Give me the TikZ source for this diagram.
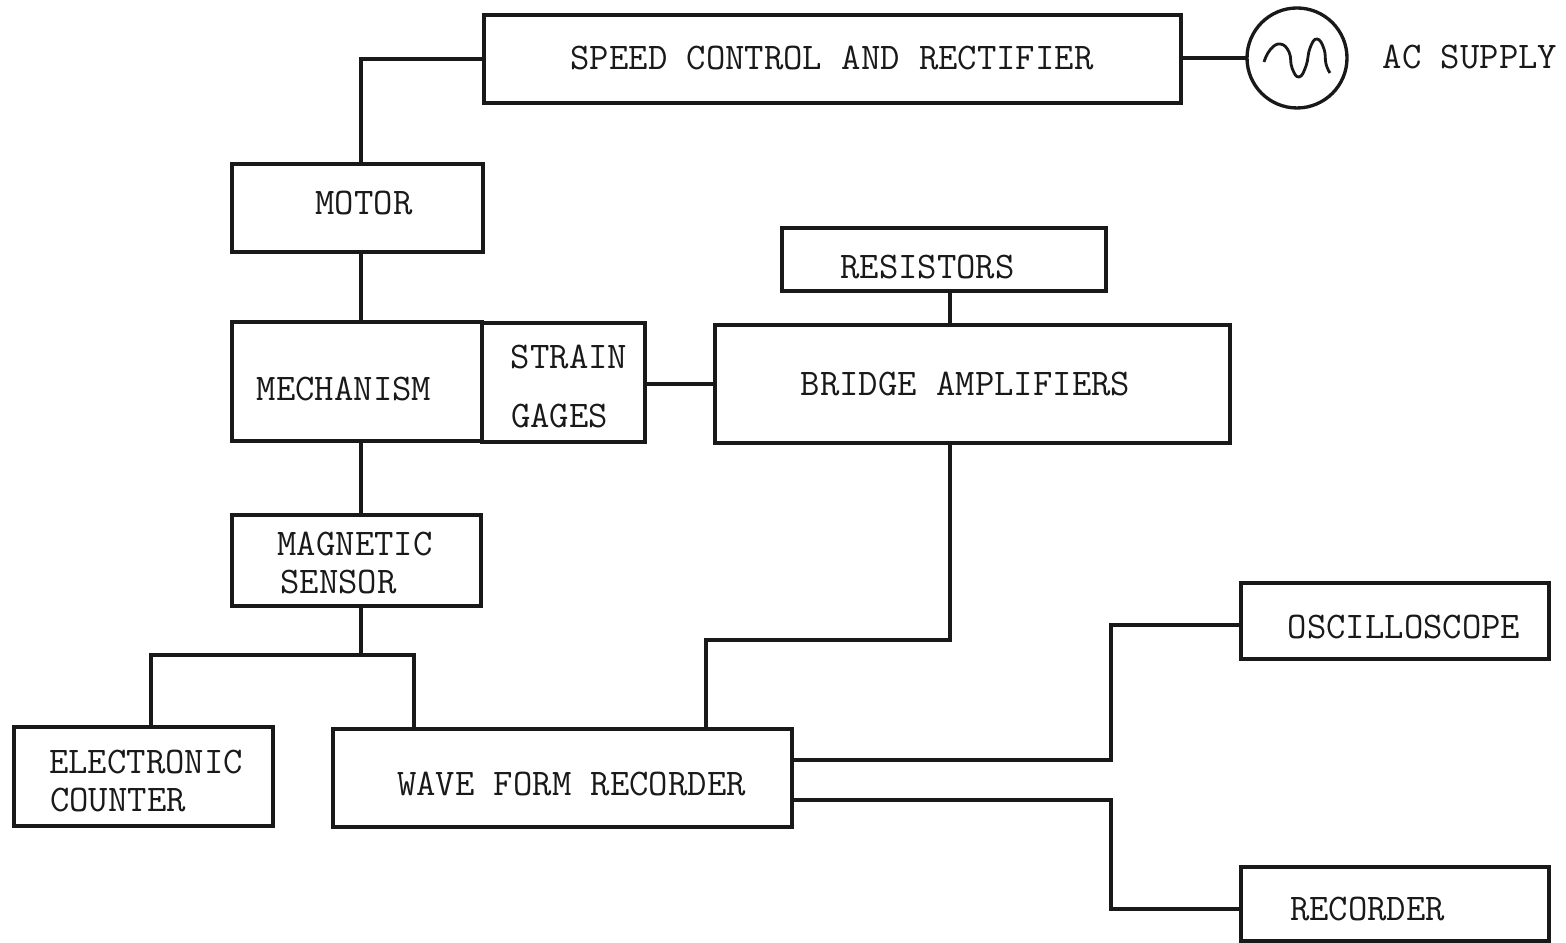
\documentclass[tikz,border=0pt]{standalone}
\usepackage{tikz}
\usetikzlibrary{positioning}
\tikzset{
  blockbox/.style={draw=black!90, line width=1.9pt, rectangle, inner sep=0pt, outer sep=0pt},
  wire/.style={draw=black!90, line width=1.9pt},
  typed/.style={font=\fontsize{21.4}{24}\selectfont\ttfamily, text=black!90, inner sep=0pt}
}
\begin{document}
\begin{tikzpicture}
  \useasboundingbox (0,0) rectangle (31.32,18.86);
  % Blocks
  \node[blockbox, minimum width=13.94cm, minimum height=1.76cm] (speed) at (16.65,17.68) {};
  \node[blockbox, circle, minimum size=2cm] (acsource) at (25.94,17.70) {};
  \node[blockbox, minimum width=5.02cm, minimum height=1.76cm] (motor) at (7.15,14.70) {};
  \node[blockbox, minimum width=6.48cm, minimum height=1.26cm] (resistors) at (18.88,13.67) {};
  \node[blockbox, minimum width=5.00cm, minimum height=2.38cm] (mechanism) at (7.14,11.23) {};
  \node[blockbox, minimum width=3.26cm, minimum height=2.38cm] (strain) at (11.27,11.21) {};
  \node[blockbox, minimum width=10.30cm, minimum height=2.36cm] (bridge) at (19.45,11.18) {};
  \node[blockbox, minimum width=4.98cm, minimum height=1.82cm] (magnetic) at (7.13,7.65) {};
  \node[blockbox, minimum width=5.18cm, minimum height=1.98cm] (counter) at (2.87,3.33) {};
  \node[blockbox, minimum width=9.18cm, minimum height=1.96cm] (wave) at (11.25,3.30) {};
  \node[blockbox, minimum width=6.16cm, minimum height=1.52cm] (scope) at (27.90,6.44) {};
  \node[blockbox, minimum width=6.16cm, minimum height=1.48cm] (recorder) at (27.90,0.78) {};
  % Labels
  \node[typed] (speedtext) at (16.64,17.70) {SPEED CONTROL AND RECTIFIER};
  \node[typed] (actext) at (29.40,17.72) {AC SUPPLY};
  \node[typed] (motortext) at (7.28,14.80) {MOTOR};
  \node[typed] (resistorstext) at (18.55,13.52) {RESISTORS};
  \node[typed] (mechanismtext) at (6.88,11.08) {MECHANISM};
  \node[typed] (straintext) at (11.38,11.72) {STRAIN};
  \node[typed] (gagestext) at (11.19,10.54) {GAGES};
  \node[typed] (bridgetext) at (19.31,11.18) {BRIDGE AMPLIFIERS};
  \node[typed] (magnetictext) at (7.10,7.98) {MAGNETIC};
  \node[typed] (sensortext) at (6.77,7.22) {SENSOR};
  \node[typed] (electronictext) at (2.92,3.62) {ELECTRONIC};
  \node[typed] (countertext) at (2.36,2.86) {COUNTER};
  \node[typed] (wavetext) at (11.43,3.18) {WAVE FORM RECORDER};
  \node[typed] (scopetext) at (28.08,6.32) {OSCILLOSCOPE};
  \node[typed] (recordertext) at (27.35,0.68) {RECORDER};
  % Sine inside the source
  \draw[wire, line width=1.6pt] plot[smooth, tension=0.8] coordinates {(25.28,17.62) (25.40,17.86) (25.60,17.98) (25.78,17.82) (25.84,17.50) (25.98,17.32) (26.12,17.54) (26.20,17.90) (26.34,18.08) (26.48,17.88) (26.52,17.58) (26.60,17.40)};
  % Routing positions
  \coordinate (spine) at (7.22,0);
  \coordinate (bridgedrop) at (19.00,0);
  \coordinate (bridgebend) at (19.00,6.06);
  \coordinate (wavein) at (14.12,0);
  \coordinate (split) at (7.22,5.76);
  \coordinate (counterin) at (3.02,0);
  \coordinate (sensorin) at (8.28,0);
  \coordinate (outbus) at (22.22,0);
  \coordinate (scopeout) at (0,3.66);
  \coordinate (scopein) at (0,6.36);
  \coordinate (recorderout) at (0,2.86);
  \coordinate (recorderin) at (0,0.68);
  % Connectors
  \draw[wire] (speed.east |- acsource.west) -- (acsource.west);
  \draw[wire] (speed.west) -| (motor.north -| spine);
  \draw[wire] (motor.south -| spine) -- (mechanism.north -| spine);
  \draw[wire] (mechanism.south -| spine) -- (magnetic.north -| spine);
  \draw[wire] (strain.east |- bridge.west) -- (bridge.west);
  \draw[wire] (resistors.south -| bridgedrop) -- (bridge.north -| bridgedrop);
  \draw[wire] (bridge.south -| bridgedrop) -- (bridgebend) -| (wave.north -| wavein);
  \draw[wire] (magnetic.south -| spine) -- (split);
  \draw[wire] (counter.north -| counterin) |- (split) -| (wave.north -| sensorin);
  \draw[wire] (wave.east |- scopeout) -| (outbus |- scopein) -- (scope.west |- scopein);
  \draw[wire] (wave.east |- recorderout) -| (outbus |- recorderin) -- (recorder.west |- recorderin);
\end{tikzpicture}
\end{document}
